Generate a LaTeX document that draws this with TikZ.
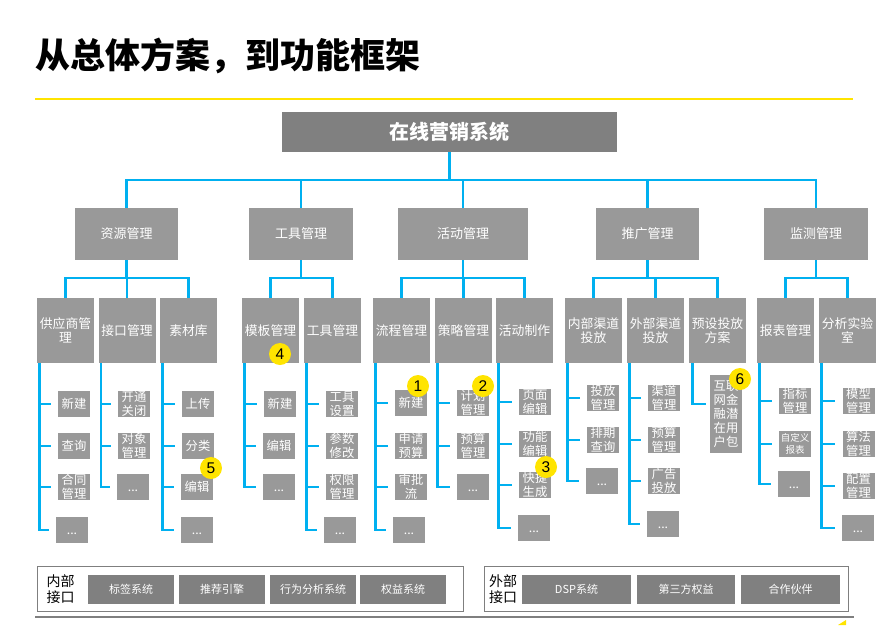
\documentclass[tikz,border=0pt]{standalone}
\usepackage{fontspec}
\setmainfont{Noto Sans CJK SC}
\newfontfamily\arialf{Liberation Sans}
\definecolor{gdark}{HTML}{808080}
\definecolor{glight}{HTML}{999999}
\definecolor{lineblue}{HTML}{00B0F0}
\definecolor{yel}{RGB}{255,228,0}
\definecolor{framegray}{HTML}{7F7F7F}
\newcommand\mkleaf[4]{\node[l4] (#1) at (#2,#3) {}; \node[l4t] (#1-t) at (#1.center) {#4};}
\newcommand\dotsx{\vphantom{新}...}
\tikzset{
  l1/.style={fill=gdark, text=white, minimum width=335pt, minimum height=40pt, inner sep=0, font=\bfseries\fontsize{20}{20}\selectfont},
  l2/.style={fill=glight, text=white, minimum height=52pt, inner sep=0, font=\fontsize{13}{13}\selectfont},
  l3/.style={fill=glight, text=white, minimum width=57pt, minimum height=65pt, inner sep=0, align=center, font=\fontsize{12.8}{14}\selectfont},
  l4/.style={fill=glight, minimum width=32pt, minimum height=26pt, inner sep=0},
  l4t/.style={text=white, align=center, inner sep=0, font=\fontsize{12.3}{14}\selectfont},
  conn/.style={draw=lineblue, line width=2.5pt},
  badge/.style={circle, fill=yel, minimum size=22pt, inner sep=0, font=\arialf\fontsize{15.5}{15.5}\selectfont},
  ifbox/.style={fill=gdark, text=white, minimum height=29pt, inner sep=0, font=\fontsize{11}{11}\selectfont},
  frame/.style={draw=framegray, line width=1pt, minimum height=45pt, inner sep=0},
  iflabel/.style={align=center, inner sep=0, font=\fontsize{14}{16}\selectfont}
}
\begin{document}
\begin{tikzpicture}[x=1pt,y=-1pt]
\useasboundingbox (0,0) rectangle (894,625);
% title
\node[anchor=west, inner sep=0, font=\bfseries\fontsize{35}{35}\selectfont] (title) at (35,56) {从总体方案，到功能框架};
\draw[yel, line width=2pt] (35,99) -- (853,99);

% level 1
\node[l1] (top) at (449.5,132) {在线营销系统};

% level 2
\node[l2, minimum width=103pt] (res) at (126.5,234) {资源管理};
\node[l2, minimum width=104pt] (tool) at (301,234) {工具管理};
\node[l2, minimum width=130pt] (act) at (463,234) {活动管理};
\node[l2, minimum width=103pt] (pro) at (647.5,234) {推广管理};
\node[l2, minimum width=104pt] (mon) at (816,234) {监测管理};

\coordinate (bus1) at (top.south |- 0,180);
\draw[conn] (top.south) -- (bus1);
\foreach \n in {res,tool,act,pro,mon} \draw[conn] (bus1) -| (\n.north);

% level 3
\node[l3] (r1) at (65.5,330.5) {供应商管\\理};
\node[l3] (r2) at (127,330.5) {接口管理};
\node[l3] (r3) at (188.5,330.5) {素材库};
\node[l3] (t1) at (270.5,330.5) {模板管理};
\node[l3] (t2) at (332.5,330.5) {工具管理};
\node[l3] (a1) at (401.5,330.5) {流程管理};
\node[l3] (a2) at (463.5,330.5) {策略管理};
\node[l3] (a3) at (524.5,330.5) {活动制作};
\node[l3] (p1) at (593.5,330.5) {内部渠道\\投放};
\node[l3] (p2) at (655.5,330.5) {外部渠道\\投放};
\node[l3] (p3) at (717.5,330.5) {预设投放\\方案};
\node[l3] (m1) at (785.5,330.5) {报表管理};
\node[l3] (m2) at (847.5,330.5) {分析实验\\室};

\coordinate (resb) at (res.south |- 0,278);
\draw[conn] (res.south) -- (resb);
\foreach \n in {r1,r2,r3} \draw[conn] (resb) -| (\n.north);
\coordinate (toolb) at (tool.south |- 0,278);
\draw[conn] (tool.south) -- (toolb);
\foreach \n in {t1,t2} \draw[conn] (toolb) -| (\n.north);
\coordinate (actb) at (act.south |- 0,278);
\draw[conn] (act.south) -- (actb);
\foreach \n in {a1,a2,a3} \draw[conn] (actb) -| (\n.north);
\coordinate (prob) at (pro.south |- 0,278);
\draw[conn] (pro.south) -- (prob);
\foreach \n in {p1,p2,p3} \draw[conn] (prob) -| (\n.north);
\coordinate (monb) at (mon.south |- 0,278);
\draw[conn] (mon.south) -- (monb);
\foreach \n in {m1,m2} \draw[conn] (monb) -| (\n.north);

% level 4 leaves
\mkleaf{r1a}{74}{404}{新建}
\mkleaf{r1b}{74}{446}{查询}
\mkleaf{r1c}{74}{487}{合同\\管理}
\mkleaf{r1d}{72}{530}{\dotsx}
\mkleaf{r2a}{134}{404}{开通\\关闭}
\mkleaf{r2b}{134}{446}{对象\\管理}
\mkleaf{r2c}{133}{487}{\dotsx}
\mkleaf{r3a}{198}{404}{上传}
\mkleaf{r3b}{198}{446}{分类}
\mkleaf{r3c}{197}{487}{编辑}
\mkleaf{r3d}{197}{530}{\dotsx}
\mkleaf{t1a}{280}{404}{新建}
\mkleaf{t1b}{279}{446}{编辑}
\mkleaf{t1c}{279}{487}{\dotsx}
\mkleaf{t2a}{342}{404}{工具\\设置}
\mkleaf{t2b}{342}{446}{参数\\修改}
\mkleaf{t2c}{342}{487}{权限\\管理}
\mkleaf{t2d}{340}{530}{\dotsx}
\mkleaf{a1a}{411}{403}{新建}
\mkleaf{a1b}{411}{446}{申请\\预算}
\mkleaf{a1c}{411}{487}{审批\\流}
\mkleaf{a1d}{409}{530}{\dotsx}
\mkleaf{a2a}{473}{403}{计划\\管理}
\mkleaf{a2b}{473}{446}{预算\\管理}
\mkleaf{a2c}{473}{487}{\dotsx}
\mkleaf{a3a}{535}{402}{页面\\编辑}
\mkleaf{a3b}{535}{444}{功能\\编辑}
\mkleaf{a3c}{535}{485}{快捷\\生成}
\mkleaf{a3d}{534}{528}{\dotsx}
\mkleaf{p1a}{603}{398}{投放\\管理}
\mkleaf{p1b}{603}{440}{排期\\查询}
\mkleaf{p1c}{602}{481}{\dotsx}
\mkleaf{p2a}{664}{398}{渠道\\管理}
\mkleaf{p2b}{664}{440}{预算\\管理}
\mkleaf{p2c}{664}{481}{广告\\投放}
\mkleaf{p2d}{663}{524}{\dotsx}
\node[l4, minimum height=78pt] (p3a) at (726,414) {};
\node[l4t] (p3a-t) at (p3a.center) {互联\\网金\\融潜\\在用\\户包};
\mkleaf{m1a}{795}{401}{指标\\管理}
\node[l4] (m1b) at (795,444) {};
\node[l4t, font=\fontsize{9.5}{12}\selectfont] (m1b-t) at (m1b.center) {自定义\\报表};
\mkleaf{m1c}{794}{484}{\dotsx}
\mkleaf{m2a}{858.5}{401}{模型\\管理}
\mkleaf{m2b}{858.5}{444}{算法\\管理}
\mkleaf{m2c}{858.5}{486}{配置\\管理}
\mkleaf{m2d}{858}{528}{\dotsx}

% level 3 -> 4 connectors
\foreach \p/\list in {r1/{r1a,r1b,r1c,r1d}, r2/{r2a,r2b,r2c}, r3/{r3a,r3b,r3c,r3d},
  t1/{t1a,t1b,t1c}, t2/{t2a,t2b,t2c,t2d}, a1/{a1a,a1b,a1c,a1d}, a2/{a2a,a2b,a2c},
  a3/{a3a,a3b,a3c,a3d}, p1/{p1a,p1b,p1c}, p2/{p2a,p2b,p2c,p2d},
  m1/{m1a,m1b,m1c}, m2/{m2a,m2b,m2c,m2d}}{
  \foreach \c in \list \draw[conn] ([xshift=2.5pt]\p.south west) |- ([xshift=-7pt]\c.west);
}
\draw[conn] ([xshift=3.5pt]p3.south west) |- ([xshift=-4pt,yshift=10pt]p3a.west);

% badges
\node[badge] (b1) at (418,386) {1};
\node[badge] (b2) at (483,386) {2};
\node[badge] (b3) at (546,467) {3};
\node[badge] (b4) at (280,354) {4};
\node[badge] (b5) at (211,468) {5};
\node[badge] (b6) at (740,379) {6};

% bottom interface frames
\node[frame, minimum width=426pt] (ifr) at (250,588.5) {};
\node[iflabel] (ifl) at (60.5,589) {内部\\接口};
\node[ifbox, minimum width=86pt] (ib1) at (131,589.5) {标签系统};
\node[ifbox, minimum width=86pt] (ib2) at (222,589.5) {推荐引擎};
\node[ifbox, minimum width=86pt] (ib3) at (313,589.5) {行为分析系统};
\node[ifbox, minimum width=86pt] (ib4) at (403,589.5) {权益系统};

\node[frame, minimum width=364pt] (efr) at (666,588.5) {};
\node[iflabel] (efl) at (503,589) {外部\\接口};
\node[ifbox, minimum width=109pt] (eb1) at (576.5,589) {DSP系统};
\node[ifbox, minimum width=98pt] (eb2) at (686,589) {第三方权益};
\node[ifbox, minimum width=99pt] (eb3) at (790.5,589) {合作伙伴};

\draw[framegray, line width=1.2pt] (35,617) -- (854,617);
\fill[yel] (838,625) -- (846,625) -- (846,620) -- cycle;
\end{tikzpicture}
\end{document}
